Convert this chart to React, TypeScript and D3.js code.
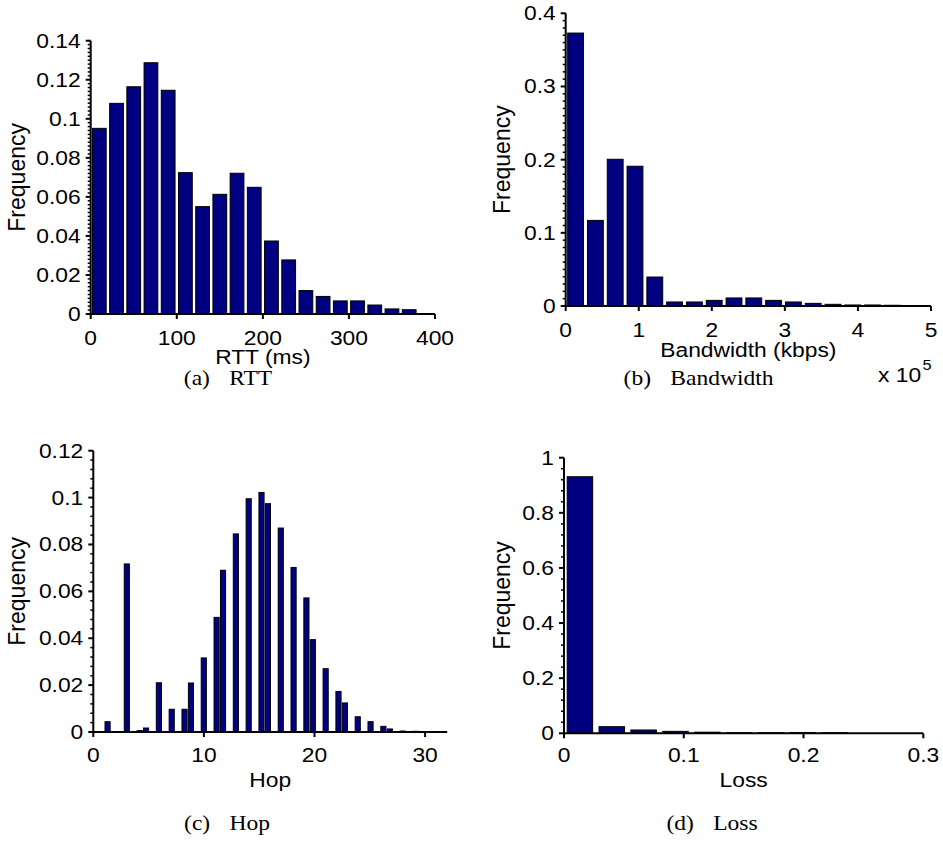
import React from 'react';
import * as d3 from 'd3';

// ---------- DATA ----------
// (a) RTT histogram: 20 bins over [0, 400] ms
const rttRange = [0, 400];
const rttFreq = [0.0951, 0.1079, 0.1164, 0.1287, 0.1146, 0.0724, 0.055, 0.0613, 0.0721, 0.0649,
  0.0374, 0.0277, 0.012, 0.009, 0.0067, 0.0067, 0.0046, 0.0026, 0.0022, 0.0];
const rttXTicks = [0, 100, 200, 300, 400];
const rttYTicks = [0, 0.02, 0.04, 0.06, 0.08, 0.1, 0.12, 0.14];

// (b) Bandwidth histogram (x 10^5 kbps): 20 bins over [0, 5.42]
const bwRange = [0, 5.42];
const bwFreq = [0.373, 0.117, 0.2005, 0.191, 0.0396, 0.0055, 0.0055, 0.0077, 0.011, 0.011,
  0.0077, 0.0055, 0.0036, 0.0023, 0.0014, 0.0014, 0.001, 0.0005, 0, 0];
const bwXTicks = [0, 1, 2, 3, 4, 5];
const bwYTicks = [0, 0.1, 0.2, 0.3, 0.4];

// (c) Hop histogram: 50 bins over [1, 30]
const hopRange = [1, 30];
const hopFreq = [0.0044, 0, 0, 0.0717, 0, 0.0006, 0.0017, 0, 0.021, 0,
  0.0097, 0, 0.0097, 0.0209, 0, 0.0316, 0, 0.0489, 0.069, 0,
  0.0845, 0, 0.0995, 0, 0.1022, 0.0974, 0, 0.087, 0, 0.0702,
  0, 0.0572, 0.0394, 0, 0.027, 0, 0.0173, 0.0124, 0, 0.0065,
  0, 0.0044, 0, 0.0024, 0.0013, 0, 0.0004, 0, 0.0003, 0.0002];
const hopXTicks = [0, 10, 20, 30];
const hopYTicks = [0, 0.02, 0.04, 0.06, 0.08, 0.1, 0.12];

// (d) Loss histogram: 20 bins over [0, 0.532]
const lossRange = [0, 0.532];
const lossFreq = [0.931, 0.024, 0.012, 0.007, 0.004, 0.002, 0.002, 0.003, 0.002, 0, 0,
  0, 0, 0, 0, 0, 0, 0, 0, 0];
const lossXTicks = [0, 0.1, 0.2, 0.3];
const lossYTicks = [0, 0.2, 0.4, 0.6, 0.8, 1];

// ---------- LAYOUT ----------
const BAR_FILL = '#000080';
const SANS = '"Liberation Sans", Arial, Helvetica, sans-serif';
const SERIF = '"Liberation Serif", "Times New Roman", serif';
const SX = 1.17; // horizontal stretch of the original figure text
const FS = 19.5;

type PanelCfg = {
  range: number[]; freq: number[]; xDomain: [number, number]; xPx: [number, number];
  yDomain: [number, number]; yPx: [number, number]; xTicks: number[]; yTicks: number[];
  minorStep: number; xLabel: string; xLabelY: number; yLabelX: number; tickLabelDy: number;
  capTag: string; capText: string; capX: number; capY: number; exponent?: boolean;
};

const panels: PanelCfg[] = [
  {
    range: rttRange, freq: rttFreq, xDomain: [0, 400], xPx: [90.7, 435], yDomain: [0, 0.14], yPx: [314, 40.7],
    xTicks: rttXTicks, yTicks: rttYTicks, minorStep: 0.002, xLabel: 'RTT (ms)', xLabelY: 364.3, yLabelX: 25,
    tickLabelDy: 31, capTag: '(a)', capText: 'RTT', capX: 228, capY: 385,
  },
  {
    range: bwRange, freq: bwFreq, xDomain: [0, 5], xPx: [565.7, 931], yDomain: [0, 0.4], yPx: [306, 13.3],
    xTicks: bwXTicks, yTicks: bwYTicks, minorStep: 0.01, xLabel: 'Bandwidth (kbps)', xLabelY: 357, yLabelX: 510,
    tickLabelDy: 30.7, capTag: '(b)', capText: 'Bandwidth', capX: 698.5, capY: 385, exponent: true,
  },
  {
    range: hopRange, freq: hopFreq, xDomain: [0, 32], xPx: [93.3, 447.2], yDomain: [0, 0.12], yPx: [732, 450.7],
    xTicks: hopXTicks, yTicks: hopYTicks, minorStep: 0.004, xLabel: 'Hop', xLabelY: 786.7, yLabelX: 25,
    tickLabelDy: 29.7, capTag: '(c)', capText: 'Hop', capX: 227, capY: 829.5,
  },
  {
    range: lossRange, freq: lossFreq, xDomain: [0, 0.3], xPx: [564, 923.3], yDomain: [0, 1], yPx: [733.3, 457.7],
    xTicks: lossXTicks, yTicks: lossYTicks, minorStep: 0.04, xLabel: 'Loss', xLabelY: 786.7, yLabelX: 510,
    tickLabelDy: 28.4, capTag: '(d)', capText: 'Loss', capX: 712, capY: 829.5,
  },
];

const fmt = (v: number) => String(+v.toFixed(4));

function SText(props: { x: number; y: number; anchor?: string; size: number; sx?: number; family?: string; children: React.ReactNode }) {
  const { x, y, anchor = 'middle', size, sx = SX, family = SANS, children } = props;
  return (
    <text transform={`translate(${x},${y}) scale(${sx},1)`} textAnchor={anchor} fontSize={size}
      fontFamily={family} fill="#000">{children}</text>
  );
}

function Panel({ p }: { p: PanelCfg }) {
  const x = d3.scaleLinear().domain(p.xDomain).range(p.xPx);
  const y = d3.scaleLinear().domain(p.yDomain).range(p.yPx);
  const n = p.freq.length;
  const w = (p.range[1] - p.range[0]) / n;
  const bars = p.freq
    .map((v, k) => ({ v, c: p.range[0] + (k + 0.5) * w }))
    .filter(d => d.v > 0 && d.c - 0.4 * w < p.xDomain[1]);
  const minor = d3.range(p.yDomain[0], p.yDomain[1] + 1e-9, p.minorStep)
    .filter(v => !p.yTicks.some(t => Math.abs(t - v) < 1e-9));
  const ax = x(p.xDomain[0]);
  const ay = y(p.yDomain[0]);
  const yMid = (p.yPx[0] + p.yPx[1]) / 2;
  const xMid = (p.xPx[0] + p.xPx[1]) / 2;
  return (
    <g>
      {bars.map((d, i) => (
        <rect key={i} x={x(d.c - 0.4 * w)} y={y(d.v)} width={x(d.c + 0.4 * w) - x(d.c - 0.4 * w)}
          height={ay - y(d.v)} fill={BAR_FILL} stroke="#000" strokeWidth={1} />
      ))}
      {/* y axis */}
      <line x1={ax} x2={ax} y1={ay + 1} y2={y(p.yDomain[1])} stroke="#000" strokeWidth={2} />
      {p.yTicks.map(t => (
        <g key={'yt' + t}>
          <line x1={ax - 5} x2={ax} y1={y(t)} y2={y(t)} stroke="#000" strokeWidth={2} />
          <SText x={ax - 10} y={y(t) + 7} anchor="end" size={FS}>{fmt(t)}</SText>
        </g>
      ))}
      {minor.map((t, i) => (
        <line key={'ym' + i} x1={ax - 3} x2={ax} y1={y(t)} y2={y(t)} stroke="#000" strokeWidth={1.5} />
      ))}
      {/* x axis */}
      <line x1={ax - 1} x2={x(p.xDomain[1])} y1={ay} y2={ay} stroke="#000" strokeWidth={2} />
      {p.xTicks.map(t => (
        <g key={'xt' + t}>
          <line x1={x(t)} x2={x(t)} y1={ay} y2={ay + 5} stroke="#000" strokeWidth={2} />
          <SText x={x(t)} y={ay + p.tickLabelDy} size={FS}>{fmt(t)}</SText>
        </g>
      ))}
      <SText x={xMid} y={p.xLabelY} size={FS}>{p.xLabel}</SText>
      <text transform={`translate(${p.yLabelX},${yMid}) rotate(-90)`} textAnchor="middle" fontSize={23}
        fontFamily={SANS} fill="#000">Frequency</text>
      {p.exponent && (
        <g>
          <SText x={878} y={381.5} anchor="start" size={FS}>x 10</SText>
          <SText x={922.5} y={370} anchor="start" size={14}>5</SText>
        </g>
      )}
      <SText x={p.capX} y={p.capY} size={21} sx={1.12} family={SERIF}>
        {p.capTag}<tspan dx={12}>{' ' + p.capText}</tspan>
      </SText>
    </g>
  );
}

export default function App() {
  return (
    <svg width={943} height={842} style={{ position: 'absolute', left: 0, top: 0, background: '#fff' }}>
      <rect x={0} y={0} width={943} height={842} fill="#fff" />
      {panels.map((p, i) => <Panel key={i} p={p} />)}
    </svg>
  );
}
